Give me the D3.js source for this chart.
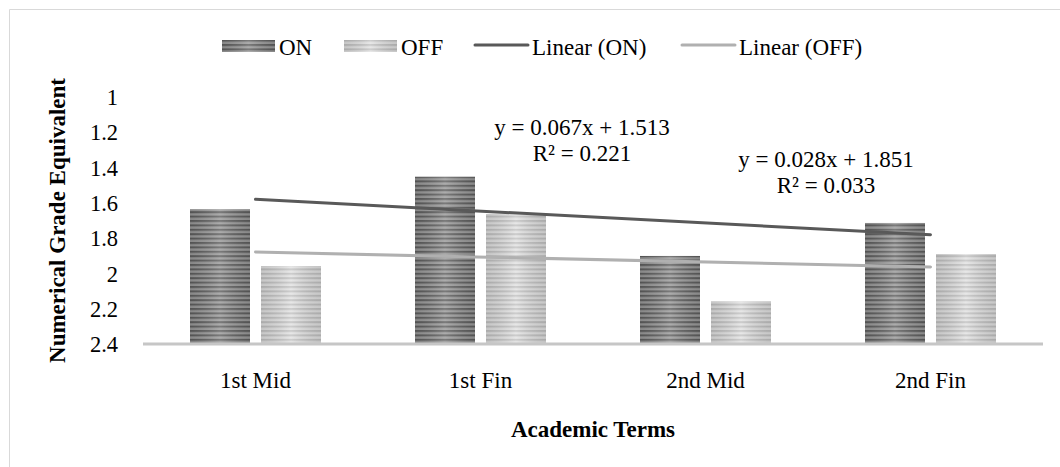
<!DOCTYPE html>
<html>
<head>
<meta charset="utf-8">
<script src="https://cdn.jsdelivr.net/npm/d3@7"></script>
<style>
  html, body { margin: 0; padding: 0; background: #fff; }
  svg { display: block; }
  text { font-family: "Liberation Serif", "Times New Roman", serif; fill: #000; }
</style>
</head>
<body>
<svg id="chart" width="1060" height="467"></svg>
<script>
// ---- data ----
const categories = ["1st Mid", "1st Fin", "2nd Mid", "2nd Fin"];
const seriesNames = ["ON", "OFF"];
const onValues  = [1.636, 1.452, 1.901, 1.714];
const offValues = [1.958, 1.663, 2.158, 1.890];
const trendNames = ["Linear (ON)", "Linear (OFF)"];
const trendSlopes = [0.067, 0.028];
const trendIntercepts = [1.513, 1.851];
const trendR2 = [0.221, 0.033];
const yTicks = [1, 1.2, 1.4, 1.6, 1.8, 2, 2.2, 2.4];
const yTitle = "Numerical Grade Equivalent";
const xTitle = "Academic Terms";

const svg = d3.select("#chart");
const W = 1060, H = 467;
const plot = { left: 143, right: 1043, top: 97, bottom: 344 };

// chart border (only left and top edges are visible in the picture)
svg.append("path").attr("d", `M9.5,${H} L9.5,9.5 L${W},9.5`)
  .attr("fill", "none").attr("stroke", "#d9d9d9").attr("stroke-width", 1);

const x0 = d3.scaleBand().domain(categories).range([plot.left, plot.right]).padding(0);
const x1 = d3.scaleBand().domain(seriesNames).range([47, 178]).paddingInner(0.155);
const y = d3.scaleLinear().domain([1, 2.4]).range([plot.top, plot.bottom]);

// patterns & gradients
const defs = svg.append("defs");
function stripePattern(id, dark, light) {
  const p = defs.append("pattern").attr("id", id).attr("patternUnits", "userSpaceOnUse")
    .attr("width", 10).attr("height", 4.4);
  p.append("rect").attr("width", 10).attr("height", 4.4).attr("fill", light);
  p.append("rect").attr("width", 10).attr("y", 0).attr("height", 2.0).attr("fill", dark);
}
stripePattern("stripeON", "#5e5e5e", "#9a9a9a");
stripePattern("stripeOFF", "#c2c2c2", "#e2e2e2");
const shade = defs.append("linearGradient").attr("id", "shade").attr("x1", 0).attr("x2", 1).attr("y1", 0).attr("y2", 0);
shade.append("stop").attr("offset", "0%").attr("stop-color", "#000").attr("stop-opacity", 0.12);
shade.append("stop").attr("offset", "50%").attr("stop-color", "#fff").attr("stop-opacity", 0.18);
shade.append("stop").attr("offset", "100%").attr("stop-color", "#000").attr("stop-opacity", 0.12);

const seriesValues = { ON: onValues, OFF: offValues };
const fills = { ON: "url(#stripeON)", OFF: "url(#stripeOFF)" };

// bars
const barData = [];
categories.forEach((c, i) => seriesNames.forEach(s => barData.push({ c, s, v: seriesValues[s][i] })));
const bars = svg.append("g");
bars.selectAll("rect.bar").data(barData).enter().append("rect").attr("class", "bar")
  .attr("x", d => x0(d.c) + x1(d.s)).attr("width", x1.bandwidth())
  .attr("y", d => y(d.v)).attr("height", d => y(2.4) - y(d.v))
  .attr("fill", d => fills[d.s]);
bars.selectAll("rect.shade").data(barData).enter().append("rect").attr("class", "shade")
  .attr("x", d => x0(d.c) + x1(d.s)).attr("width", x1.bandwidth())
  .attr("y", d => y(d.v)).attr("height", d => y(2.4) - y(d.v))
  .attr("fill", "url(#shade)");

// baseline
svg.append("line").attr("x1", plot.left).attr("x2", plot.right)
  .attr("y1", y(2.4)).attr("y2", y(2.4)).attr("stroke", "#c6c6c6").attr("stroke-width", 3);

// trendlines
const trendColors = ["#595959", "#b0b0b0"];
const xc = c => x0(c) + x0.bandwidth() / 2;
const trendData = trendSlopes.map((m, k) => ({
  k, pts: [1, categories.length].map(t => [xc(categories[t - 1]), y(m * t + trendIntercepts[k])])
}));
svg.append("g").selectAll("path").data(trendData).enter().append("path")
  .attr("d", d => d3.line()(d.pts)).attr("fill", "none")
  .attr("stroke", d => trendColors[d.k]).attr("stroke-width", 3).attr("stroke-linecap", "round");

// equation labels
const eqPos = [{ x: 582, y: 135 }, { x: 826, y: 167 }];
trendSlopes.forEach((m, k) => {
  const g = svg.append("g").attr("font-size", 23).attr("text-anchor", "middle");
  g.append("text").attr("x", eqPos[k].x).attr("y", eqPos[k].y)
    .text(`y = ${m.toFixed(3)}x + ${trendIntercepts[k].toFixed(3)}`);
  g.append("text").attr("x", eqPos[k].x).attr("y", eqPos[k].y + 26)
    .text(`R² = ${trendR2[k].toFixed(3)}`);
});

// y axis
const yAxis = svg.append("g").attr("transform", `translate(${plot.left - 25},0)`)
  .call(d3.axisLeft(y).tickValues(yTicks).tickSize(0).tickPadding(0).tickFormat(d => String(d)));
yAxis.select(".domain").remove();
yAxis.selectAll("text").attr("font-size", 22.5).attr("font-family", "Liberation Serif").attr("fill", "#000")
  .attr("dy", "0.34em");

// x axis labels
const xAxis = svg.append("g").attr("transform", `translate(0,${plot.bottom})`)
  .call(d3.axisBottom(x0).tickSize(0).tickPadding(0));
xAxis.select(".domain").remove();
xAxis.selectAll("text").attr("font-size", 23).attr("font-family", "Liberation Serif").attr("fill", "#000")
  .attr("dy", null).attr("y", 44);

// axis titles
svg.append("text").attr("x", (plot.left + plot.right) / 2).attr("y", 437)
  .attr("text-anchor", "middle").attr("font-size", 23).attr("font-weight", "bold").text(xTitle);
svg.append("text").attr("transform", `translate(57,${(plot.top + plot.bottom) / 2}) rotate(-90)`)
  .attr("text-anchor", "middle").attr("dominant-baseline", "central")
  .attr("font-size", 23).attr("font-weight", "bold").text(yTitle);

// legend
const legend = svg.append("g");
const legItems = [
  { label: seriesNames[0], type: "bar", fill: fills.ON, x: 222 },
  { label: seriesNames[1], type: "bar", fill: fills.OFF, x: 344 },
  { label: trendNames[0], type: "line", color: trendColors[0], x: 475 },
  { label: trendNames[1], type: "line", color: trendColors[1], x: 682 }
];
const ly = 46;
legItems.forEach(it => {
  if (it.type === "bar") {
    legend.append("rect").attr("x", it.x).attr("y", ly - 6).attr("width", 53).attr("height", 12).attr("fill", it.fill);
    legend.append("rect").attr("x", it.x).attr("y", ly - 6).attr("width", 53).attr("height", 12).attr("fill", "url(#shade)");
  } else {
    legend.append("line").attr("x1", it.x).attr("x2", it.x + 53).attr("y1", ly - 1).attr("y2", ly - 1)
      .attr("stroke", it.color).attr("stroke-width", 3).attr("stroke-linecap", "round");
  }
  legend.append("text").attr("x", it.x + 57).attr("y", ly + 9).attr("font-size", 23).text(it.label);
});
</script>
</body>
</html>
